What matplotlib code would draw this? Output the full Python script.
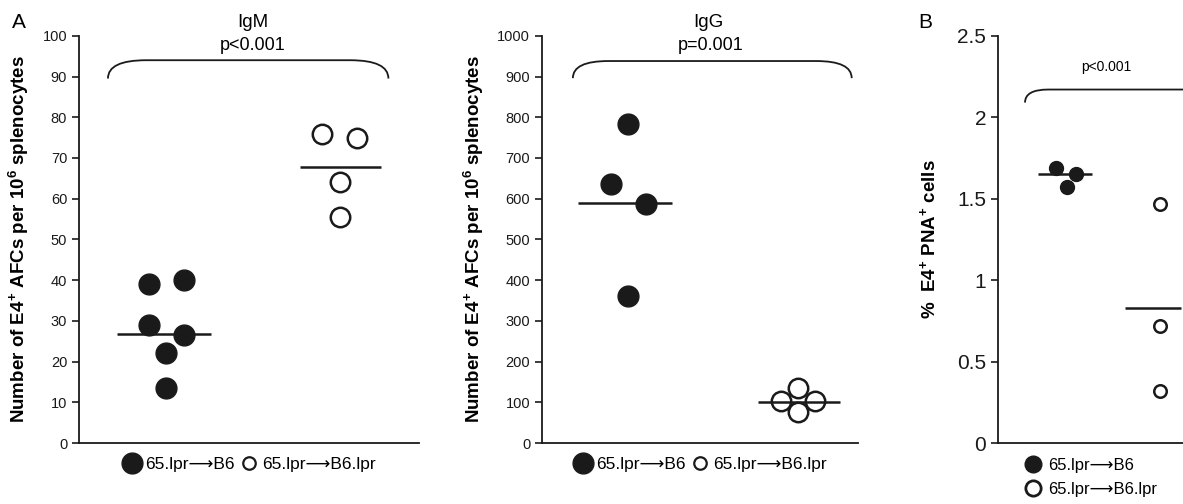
import matplotlib.pyplot as plt
from matplotlib.path import Path
from matplotlib.patches import PathPatch
from matplotlib.lines import Line2D

plt.rcParams['font.family'] = ['Liberation Sans', 'DejaVu Sans']
plt.rcParams['mathtext.fontset'] = 'custom'
plt.rcParams['mathtext.rm'] = 'Liberation Sans'
plt.rcParams['mathtext.bf'] = 'Liberation Sans:bold'

# --- data ---
igm_b6_x = [0.82, 1.23, 0.82, 1.23, 1.02, 1.02]
igm_b6 = [39, 40, 29, 26.5, 22, 13.5]
igm_lpr_x = [2.86, 3.27, 3.07, 3.07]
igm_lpr = [76, 75, 64, 55.5]
igm_means = [26.8, 67.7]

igg_b6_x = [1.09, 0.87, 1.32, 1.09]
igg_b6 = [783, 637, 588, 360]
igg_lpr_x = [3.24, 3.03, 3.46, 3.24]
igg_lpr = [136, 104, 104, 76]
igg_means = [590, 100]

pna_b6_x = [0.88, 1.18, 1.04]
pna_b6 = [1.69, 1.65, 1.57]
pna_lpr_x = [2.45, 2.45, 2.45]
pna_lpr = [1.47, 0.72, 0.32]
pna_means = [1.65, 0.83]

legend_labels = ['65.lpr\u27f6B6', '65.lpr\u27f6B6.lpr']
ylab_afc = r'Number of E4$^\mathbf{+}$ AFCs per 10$^\mathbf{6}$ splenocytes'
ylab_pna = r'%  E4$^\mathbf{+}$ PNA$^\mathbf{+}$ cells'

fig = plt.figure(figsize=(11.83, 5.04), dpi=100)
ax1 = fig.add_axes([0.0668, 0.121, 0.2874, 0.808])
ax2 = fig.add_axes([0.4582, 0.121, 0.2671, 0.808])
ax3 = fig.add_axes([0.8436, 0.121, 0.17, 0.808])


def bracket(ax, x0, x1, ytop, yend, dx):
    verts = [(x0, yend), (x0, ytop), (x0 + dx, ytop), (x1 - dx, ytop),
             (x1, ytop), (x1, yend)]
    codes = [Path.MOVETO, Path.CURVE3, Path.CURVE3, Path.LINETO,
             Path.CURVE3, Path.CURVE3]
    ax.add_patch(PathPatch(Path(verts, codes), fill=False, lw=1.3,
                           color='#1a1a1a', clip_on=False))


def style(ax, ylim, ticks, ticklabels, fs):
    ax.set_ylim(*ylim)
    ax.set_yticks(ticks)
    ax.set_yticklabels(ticklabels)
    ax.set_xticks([])
    for s in ['top', 'right']:
        ax.spines[s].set_visible(False)
    for s in ['left', 'bottom']:
        ax.spines[s].set_linewidth(1.3)
        ax.spines[s].set_color('#1a1a1a')
    ax.tick_params(axis='y', direction='out', length=5, width=1.2,
                   labelsize=fs, colors='#1a1a1a')


# IgM panel
ax1.plot(igm_b6_x, igm_b6, 'o', ms=15, color='#1a1a1a', mec='#1a1a1a')
ax1.plot(igm_lpr_x, igm_lpr, 'o', ms=14, mfc='white', mec='#1a1a1a', mew=1.8)
ax1.hlines(igm_means, [0.45, 2.6], [1.55, 3.55], color='#1a1a1a', lw=1.8)
ax1.set_xlim(0, 4)
style(ax1, (0, 100), range(0, 101, 10), [str(v) for v in range(0, 101, 10)], 10.5)
ax1.set_ylabel(ylab_afc, fontsize=13.5, fontweight='bold', labelpad=8)
bracket(ax1, 0.34, 3.64, 94, 89.5, 0.45)
ax1.text(0.51, 1.032, 'IgM', transform=ax1.transAxes, ha='center', va='center', fontsize=13.5)
ax1.text(0.51, 0.976, 'p<0.001', transform=ax1.transAxes, ha='center', va='center', fontsize=13)

# IgG panel
ax2.plot(igg_b6_x, igg_b6, 'o', ms=15, color='#1a1a1a', mec='#1a1a1a')
ax2.plot(igg_lpr_x, igg_lpr, 'o', ms=14, mfc='white', mec='#1a1a1a', mew=1.8)
ax2.hlines(igg_means, [0.46, 2.73], [1.65, 3.77], color='#1a1a1a', lw=1.8)
ax2.set_xlim(0, 4)
style(ax2, (0, 1000), range(0, 1001, 100), [str(v) for v in range(0, 1001, 100)], 10.5)
ax2.set_ylabel(ylab_afc, fontsize=13.5, fontweight='bold', labelpad=8)
bracket(ax2, 0.39, 3.92, 938, 896, 0.45)
ax2.text(0.525, 1.032, 'IgG', transform=ax2.transAxes, ha='center', va='center', fontsize=13.5)
ax2.text(0.535, 0.976, 'p=0.001', transform=ax2.transAxes, ha='center', va='center', fontsize=13)

# PNA panel
ax3.plot(pna_b6_x, pna_b6, 'o', ms=10, color='#1a1a1a', mec='#1a1a1a')
ax3.plot(pna_lpr_x, pna_lpr, 'o', ms=9, mfc='white', mec='#1a1a1a', mew=1.8)
ax3.hlines(pna_means, [0.6, 1.93], [1.43, 2.78], color='#1a1a1a', lw=1.8)
ax3.set_xlim(0, 3.05)
style(ax3, (0, 2.5), [0, 0.5, 1, 1.5, 2, 2.5], ['0', '0.5', '1', '1.5', '2', '2.5'], 15)
ax3.set_ylabel(ylab_pna, fontsize=13.5, fontweight='bold', labelpad=12)
bracket(ax3, 0.41, 3.3, 2.17, 2.09, 0.35)
ax3.text(1.65, 2.31, 'p<0.001', ha='center', va='center', fontsize=10)

# legends
fill_h = Line2D([], [], ls='none', marker='o', ms=15, color='#1a1a1a')
open_h = Line2D([], [], ls='none', marker='o', ms=9, mfc='white', mec='#1a1a1a', mew=1.6)
for ax in (ax1, ax2):
    ax.legend([fill_h, open_h], legend_labels, ncol=2, frameon=False,
              loc='upper center', bbox_to_anchor=(0.5, 0.005), fontsize=12.5,
              handletextpad=0.2, columnspacing=0.3, handlelength=1.1)
fill_s = Line2D([], [], ls='none', marker='o', ms=12, color='#1a1a1a')
open_s = Line2D([], [], ls='none', marker='o', ms=11, mfc='white', mec='#1a1a1a', mew=2)
ax3.legend([fill_s, open_s], legend_labels, frameon=False, loc='upper left',
           bbox_to_anchor=(0.05, 0.0), fontsize=12, handletextpad=0.3,
           labelspacing=0.55, handlelength=1.2)

fig.text(0.010, 0.955, 'A', fontsize=15, va='center')
fig.text(0.776, 0.955, 'B', fontsize=15, va='center')

plt.savefig('out.png', dpi=100)
